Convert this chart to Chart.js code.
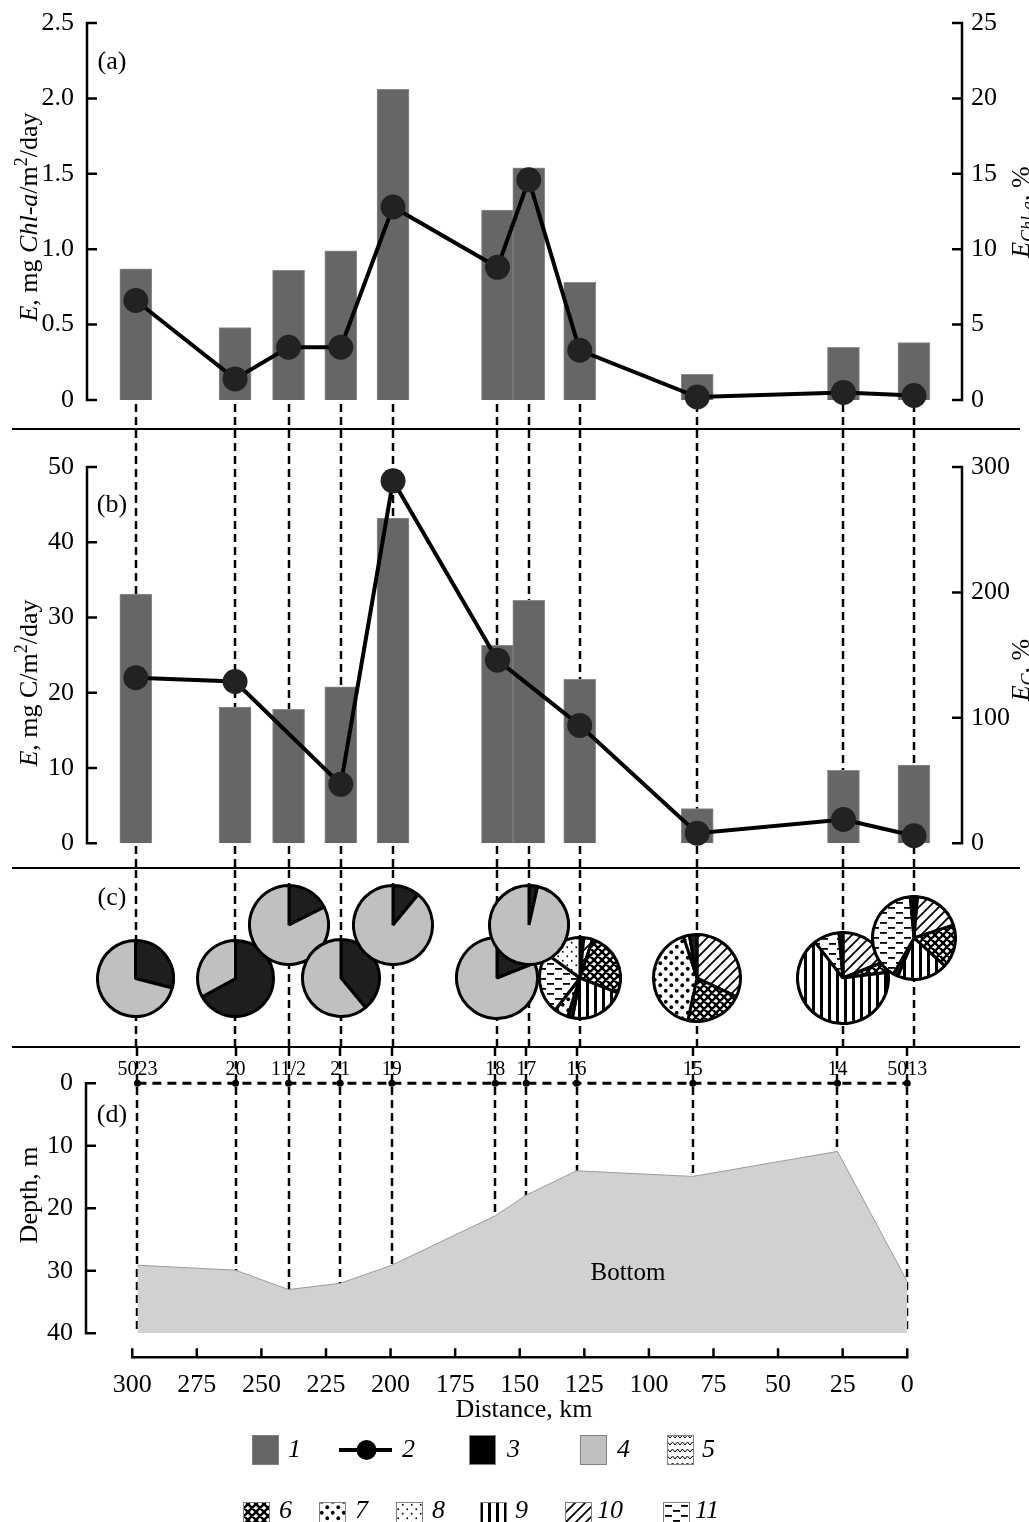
<!DOCTYPE html>
<html>
<head>
<meta charset="utf-8">
<title>Production along the transect</title>
<script src="https://cdn.jsdelivr.net/npm/chart.js@4.4.1/dist/chart.umd.min.js"></script>
<style>
  body { margin: 0; background: #fff; }
  #wrap { position: relative; width: 1029px; height: 1522px; overflow: hidden; }
  #wrap canvas { position: absolute; left: 0; }
</style>
</head>
<body>
<div id="wrap">
  <canvas id="cA" width="1029" height="430" style="top:0px"></canvas>
  <canvas id="cB" width="1029" height="440" style="top:430px"></canvas>
  <canvas id="cC" width="1029" height="178" style="top:870px"></canvas>
  <canvas id="cD" width="1029" height="474" style="top:1048px"></canvas>
</div>
<script>
// ---- data ----
const stationNames = ['5023', '20', '11/2', '21', '19', '18', '17', '16', '15', '14', '5013'];
const stationKm = [298, 260, 239.5, 219.5, 199.5, 159.5, 147.5, 128, 83, 27, 0];

// (a) mg Chl-a/m2/day (bars) and % (line)
const chlRate = [0.87, 0.48, 0.86, 0.99, 2.06, 1.26, 1.54, 0.78, 0.17, 0.35, 0.38];
const chlPct = [6.6, 1.4, 3.5, 3.5, 12.8, 8.8, 14.6, 3.3, 0.2, 0.5, 0.3];

// (b) mg C/m2/day (bars) and % (line), no point at 11/2 and 17
const carbRate = [33.1, 18.1, 17.8, 20.8, 43.2, 26.3, 32.3, 21.8, 4.6, 9.7, 10.4];
const carbPct = [132, 129, null, 47, 289, 146, null, 94, 8, 19, 6];

// (c) pie slices, clockwise from 12 o'clock: [group, percent]
const pieSlices = [
  [[3, 29], [4, 71]],
  [[3, 67], [4, 33]],
  [[3, 17.5], [4, 82.5]],
  [[3, 39], [4, 61]],
  [[3, 11], [4, 89]],
  [[3, 19], [4, 81]],
  [[3, 3.5], [4, 96.5]],
  [[3, 1.5], [10, 3.5], [6, 26], [9, 22], [3, 2], [7, 5.5], [11, 24.5], [8, 15]],
  [[10, 32], [6, 21.4], [7, 41.6], [8, 2.2], [3, 2.8]],
  [[10, 19], [6, 4], [9, 66.5], [11, 9.1], [3, 1.4]],
  [[3, 1.4], [10, 18.6], [6, 16.7], [9, 19.7], [3, 1.9], [11, 40.3], [3, 1.4]]
];

// (d) bottom depth, m
const bottomDepth = [29.1, 29.9, 33.0, 32.0, 29.1, 21.2, 17.9, 14.0, 14.9, 10.9, 31.7];

const chlTicks = [0, 0.5, 1, 1.5, 2, 2.5];
const chlPctTicks = [0, 5, 10, 15, 20, 25];
const carbTicks = [0, 10, 20, 30, 40, 50];
const carbPctTicks = [0, 100, 200, 300];
const depthTicks = [0, 10, 20, 30, 40];
const kmTicks = [300, 275, 250, 225, 200, 175, 150, 125, 100, 75, 50, 25, 0];

// ---- layout ----
const pieLevel = [0, 0, 1, 0, 1, 0, 1, 0, 0, 0, 0.76];   // pies lifted to avoid overlap
const pieRadius = [37.5, 37.5, 39, 38, 39, 40, 39, 40, 43, 45, 41];
const pieOrder = [0, 1, 2, 3, 4, 5, 7, 6, 8, 9, 10];
const X_TOP = { min: -18.4, max: 316.7 };
const X_BOT = { min: -21.2, max: 317.9 };
const TICK = 26;

const FONT = "'Liberation Serif', 'Times New Roman', serif";
Chart.defaults.font.family = FONT;
Chart.defaults.color = '#000';
Chart.defaults.animation = false;

const wrap = document.getElementById('wrap');

function dot(g, x, y, r) { g.beginPath(); g.arc(x, y, r, 0, Math.PI * 2); g.fill(); }

function tile(w, h, paint) {
  const c = document.createElement('canvas');
  c.width = w; c.height = h;
  const g = c.getContext('2d');
  g.fillStyle = '#fff'; g.fillRect(0, 0, w, h);
  g.fillStyle = '#000'; g.strokeStyle = '#000';
  paint(g);
  return g.createPattern(c, 'repeat');
}

const fills = {
  1: '#666666',
  3: '#1e1e1e',
  4: '#c0c0c0',
  5: tile(10, 7, g => {
    g.lineWidth = 1; g.beginPath();
    g.moveTo(0, 5); g.lineTo(2.5, 2); g.lineTo(5, 5); g.lineTo(7.5, 2); g.lineTo(10, 5);
    g.stroke();
  }),
  6: tile(8, 8, g => {
    g.lineWidth = 2.4; g.beginPath();
    [-8, 0, 8].forEach(k => {
      g.moveTo(-2, -2 + k); g.lineTo(10, 10 + k);
      g.moveTo(-2, 10 + k); g.lineTo(10, -2 + k);
    });
    g.stroke();
  }),
  7: tile(11, 11, g => { dot(g, 2.75, 2.75, 1.9); dot(g, 8.25, 8.25, 1.9); }),
  8: tile(9, 9, g => { dot(g, 2.25, 2.25, 0.9); dot(g, 6.75, 6.75, 0.9); }),
  9: tile(8, 8, g => g.fillRect(0, 0, 3, 8)),
  10: tile(10, 10, g => {
    g.lineWidth = 1.8; g.beginPath();
    [-10, 0, 10].forEach(k => { g.moveTo(-2, 12 + k); g.lineTo(12, -2 + k); });
    g.stroke();
  }),
  11: tile(16, 10, g => { g.fillRect(1, 2, 7, 1.8); g.fillRect(9, 7, 7, 1.8); })
};

function stationXY(vals) { return stationKm.map((d, i) => ({ x: d, y: vals[i] })); }

// y axes: scale from Chart.js, line / inward ticks / labels drawn in drawYAxis
function yAxis(pos, ticksArr, width, reverse) {
  return {
    type: 'linear', position: pos, reverse: !!reverse,
    min: ticksArr[0], max: ticksArr[ticksArr.length - 1],
    grid: { display: false, drawTicks: false }, border: { display: false },
    ticks: { display: false, padding: 0 },
    afterBuildTicks: s => { s.ticks = ticksArr.map(v => ({ value: v })); },
    afterFit: s => { s.width = width; }
  };
}

function hiddenX(r) {
  return { type: 'linear', reverse: true, min: r.min, max: r.max, offset: false, display: false };
}

// move the chart area to the wanted place by adjusting layout padding
function pin(chart, pad, want) {
  for (let k = 0; k < 4; k++) {
    const a = chart.chartArea;
    pad.left += want.left - a.left;
    pad.right += a.right - want.right;
    pad.top += want.top - a.top;
    pad.bottom += a.bottom - want.bottom;
    chart.update('none');
  }
}

function dashV(chart, y0, y1) {
  const ctx = chart.ctx, xs = chart.scales.x;
  ctx.save();
  ctx.strokeStyle = '#000'; ctx.lineWidth = 2.5; ctx.setLineDash([8, 5]);
  ctx.beginPath();
  stationKm.forEach(d => {
    const x = Math.round(xs.getPixelForValue(d));
    ctx.moveTo(x, y0); ctx.lineTo(x, y1);
  });
  ctx.stroke();
  ctx.restore();
}

function drawYAxis(chart, id, fmt) {
  const s = chart.scales[id], ctx = chart.ctx;
  const left = s.position === 'left';
  const x = left ? chart.chartArea.left : chart.chartArea.right;
  const ya = s.getPixelForValue(s.min), yb = s.getPixelForValue(s.max);
  ctx.save();
  ctx.strokeStyle = '#000'; ctx.lineWidth = 2.5;
  ctx.beginPath();
  ctx.moveTo(x, Math.min(ya, yb) - 1.25); ctx.lineTo(x, Math.max(ya, yb) + 1.25);
  s.ticks.forEach(t => {
    const y = s.getPixelForValue(t.value);
    ctx.moveTo(x, y); ctx.lineTo(x + (left ? 10 : -10), y);
  });
  ctx.stroke();
  ctx.font = TICK + 'px ' + FONT;
  ctx.fillStyle = '#000'; ctx.textBaseline = 'middle'; ctx.textAlign = left ? 'right' : 'left';
  s.ticks.forEach(t => ctx.fillText(fmt(t.value), left ? x - 13 : x + 9, s.getPixelForValue(t.value)));
  ctx.restore();
}

function sepLine(ctx, y) { ctx.save(); ctx.fillStyle = '#000'; ctx.fillRect(12, y - 1, 1008, 2); ctx.restore(); }

function label(ctx, text, x, y, size, italic) {
  ctx.save();
  ctx.font = (italic ? 'italic ' : '') + (size || TICK) + 'px ' + FONT;
  ctx.fillStyle = '#000'; ctx.textAlign = 'center'; ctx.textBaseline = 'middle';
  ctx.fillText(text, x, y);
  ctx.restore();
}

// rotated (reading upwards) text with italic / sub / sup parts
function rich(ctx, parts, x, y, size) {
  ctx.save();
  ctx.translate(x, y); ctx.rotate(-Math.PI / 2);
  const fontOf = st => (st.includes('i') ? 'italic ' : '') +
    Math.round(st.includes('sub') || st.includes('sup') ? size * 0.68 : size) + 'px ' + FONT;
  let w = 0;
  parts.forEach(([t, st]) => { ctx.font = fontOf(st); w += ctx.measureText(t).width; });
  let cx = -w / 2;
  ctx.fillStyle = '#000'; ctx.textBaseline = 'alphabetic'; ctx.textAlign = 'left';
  parts.forEach(([t, st]) => {
    ctx.font = fontOf(st);
    const dy = st.includes('sub') ? size * 0.22 : st.includes('sup') ? -size * 0.38 : 0;
    ctx.fillText(t, cx, size * 0.33 + dy);
    cx += ctx.measureText(t).width;
  });
  ctx.restore();
}

const noUi = { legend: { display: false }, tooltip: { enabled: false } };
const fmt1 = v => (v === 0 ? '0' : v.toFixed(1));
const fmt0 = v => String(v);

function lineSet(vals, axis) {
  return {
    type: 'line', data: stationXY(vals), yAxisID: axis, order: 0,
    borderColor: '#000', borderWidth: 4, tension: 0, spanGaps: true, clip: false,
    pointRadius: 12.5, pointBackgroundColor: '#222', pointBorderColor: '#222', pointBorderWidth: 0
  };
}
function barSet(vals) {
  return {
    type: 'bar', data: stationXY(vals), yAxisID: 'y', order: 1,
    backgroundColor: '#666666', borderColor: '#8c8c8c', borderWidth: 1, barThickness: 32
  };
}

// ---- (a) ----
const padA = { left: 0, right: 0, top: 0, bottom: 0 };
const chartA = new Chart(document.getElementById('cA'), {
  type: 'bar',
  data: { datasets: [lineSet(chlPct, 'y2'), barSet(chlRate)] },
  options: {
    responsive: false, events: [], layout: { padding: padA, autoPadding: false }, plugins: noUi,
    scales: {
      x: hiddenX(X_TOP),
      y: yAxis('left', chlTicks, 87),
      y2: yAxis('right', chlPctTicks, 67)
    }
  },
  plugins: [{
    id: 'panelA',
    beforeDatasetsDraw(chart) { dashV(chart, chart.chartArea.bottom + 4, chart.height); },
    afterDraw(chart) {
      const ctx = chart.ctx;
      drawYAxis(chart, 'y', fmt1); drawYAxis(chart, 'y2', fmt0);
      sepLine(ctx, 429);
      label(ctx, '(a)', 112, 62);
      rich(ctx, [['E', 'i'], [', mg ', ''], ['Chl', 'i'], ['-', ''], ['a', 'i'], ['/m', ''], ['2', 'sup'], ['/day', '']], 28, 217, 26);
      rich(ctx, [['E', 'i'], ['Chl-a', 'isub'], [', %', '']], 1020, 212, 26);
    }
  }]
});
pin(chartA, padA, { left: 87, right: 962, top: 23, bottom: 400 });

// ---- (b) ----
const padB = { left: 0, right: 0, top: 0, bottom: 0 };
const chartB = new Chart(document.getElementById('cB'), {
  type: 'bar',
  data: { datasets: [lineSet(carbPct, 'y2'), barSet(carbRate)] },
  options: {
    responsive: false, events: [], layout: { padding: padB, autoPadding: false }, plugins: noUi,
    scales: {
      x: hiddenX(X_TOP),
      y: yAxis('left', carbTicks, 87),
      y2: yAxis('right', carbPctTicks, 67)
    }
  },
  plugins: [{
    id: 'panelB',
    beforeDatasetsDraw(chart) { dashV(chart, 0, chart.height); },
    afterDraw(chart) {
      const ctx = chart.ctx;
      drawYAxis(chart, 'y', fmt0); drawYAxis(chart, 'y2', fmt0);
      sepLine(ctx, 438);
      label(ctx, '(b)', 112, 75);
      rich(ctx, [['E', 'i'], [', mg C/m', ''], ['2', 'sup'], ['/day', '']], 28, 253, 26);
      rich(ctx, [['E', 'i'], ['C', 'isub'], [', %', '']], 1020, 240, 26);
    }
  }]
});
pin(chartB, padB, { left: 87, right: 962, top: 37, bottom: 413.3 });

// ---- (c) ----
const padC = { left: 0, right: 0, top: 0, bottom: 0 };
const chartC = new Chart(document.getElementById('cC'), {
  type: 'bubble',
  data: {
    datasets: [{
      data: stationKm.map((d, i) => ({ x: d, y: pieLevel[i], r: pieRadius[i] })),
      backgroundColor: 'rgba(0,0,0,0)', borderWidth: 0, hoverRadius: 0
    }]
  },
  options: {
    responsive: false, events: [], layout: { padding: padC, autoPadding: false }, plugins: noUi,
    scales: {
      x: hiddenX(X_TOP),
      y: { type: 'linear', min: 0, max: 1, display: false }
    }
  },
  plugins: [{
    id: 'panelC',
    beforeDatasetsDraw(chart) { dashV(chart, 0, chart.height); },
    afterDraw(chart) {
      sepLine(chart.ctx, 177);
      label(chart.ctx, '(c)', 112, 28);
    }
  }]
});
pin(chartC, padC, { left: 87, right: 962, top: 55, bottom: 108 });

const metaC = chartC.getDatasetMeta(0);
pieOrder.forEach(i => {
  const el = metaC.data[i];
  const r = el.options.radius;
  const size = Math.ceil(2 * r + 4);
  const cv = document.createElement('canvas');
  cv.width = size; cv.height = size;
  cv.style.left = (el.x - size / 2) + 'px';
  cv.style.top = (870 + el.y - size / 2) + 'px';
  wrap.appendChild(cv);
  new Chart(cv, {
    type: 'pie',
    data: {
      labels: pieSlices[i].map(s => String(s[0])),
      datasets: [{
        data: pieSlices[i].map(s => s[1]),
        backgroundColor: pieSlices[i].map(s => fills[s[0]]),
        borderColor: '#000', borderWidth: 3
      }]
    },
    options: { responsive: false, events: [], animation: false, layout: { padding: 0 }, plugins: noUi }
  });
});

// ---- (d) ----
const legendItems = [
  { key: 1, row: 0, sx: 252, tx: 288 },
  { key: 2, row: 0, sx: 339, tx: 402 },
  { key: 3, row: 0, sx: 469, tx: 507 },
  { key: 4, row: 0, sx: 580, tx: 617 },
  { key: 5, row: 0, sx: 667, tx: 702 },
  { key: 6, row: 1, sx: 243, tx: 279 },
  { key: 7, row: 1, sx: 319, tx: 355 },
  { key: 8, row: 1, sx: 396, tx: 432 },
  { key: 9, row: 1, sx: 480, tx: 515 },
  { key: 10, row: 1, sx: 565, tx: 597 },
  { key: 11, row: 1, sx: 663, tx: 695 }
];
const legendRows = [{ top: 387, mid: 402 }, { top: 454, mid: 463 }];

function drawLegend(ctx) {
  ctx.save();
  legendItems.forEach(it => {
    const row = legendRows[it.row];
    if (it.key === 2) {
      ctx.strokeStyle = '#000'; ctx.lineWidth = 4;
      ctx.beginPath(); ctx.moveTo(it.sx, row.mid); ctx.lineTo(it.sx + 53, row.mid); ctx.stroke();
      ctx.fillStyle = '#000';
      ctx.beginPath(); ctx.arc(it.sx + 27.5, row.mid, 10, 0, Math.PI * 2); ctx.fill();
    } else {
      ctx.fillStyle = it.key === 3 ? '#000' : fills[it.key];
      ctx.fillRect(it.sx, row.top, 27, 30);
      ctx.strokeStyle = '#808080'; ctx.lineWidth = 1;
      ctx.strokeRect(it.sx + 0.5, row.top + 0.5, 26, 29);
    }
    ctx.font = 'italic 26px ' + FONT;
    ctx.fillStyle = '#000'; ctx.textAlign = 'left'; ctx.textBaseline = 'middle';
    ctx.fillText(String(it.key), it.tx, row.mid);
  });
  ctx.restore();
}

const padD = { left: 0, right: 0, top: 0, bottom: 0 };
const chartD = new Chart(document.getElementById('cD'), {
  type: 'line',
  data: {
    datasets: [
      {
        data: stationXY(bottomDepth), order: 2,
        fill: { value: 40 }, backgroundColor: '#d1d1d1',
        borderColor: '#9b9b9b', borderWidth: 1, pointRadius: 0, tension: 0
      },
      {
        data: stationKm.map(d => ({ x: d, y: 0 })), order: 1, clip: false,
        borderColor: '#000', borderWidth: 3, borderDash: [9, 6],
        pointRadius: 3.5, pointBackgroundColor: '#000', pointBorderWidth: 0
      }
    ]
  },
  options: {
    responsive: false, events: [], layout: { padding: padD, autoPadding: false }, plugins: noUi,
    scales: {
      x: {
        type: 'linear', reverse: true, min: X_BOT.min, max: X_BOT.max, offset: false,
        grid: { display: false, drawTicks: false }, border: { display: false },
        ticks: { font: { size: TICK }, color: '#000', padding: 36, autoSkip: false, maxRotation: 0 },
        afterBuildTicks: s => { s.ticks = kmTicks.map(v => ({ value: v })); }
      },
      y: yAxis('left', depthTicks, 86, true)
    }
  },
  plugins: [{
    id: 'panelD',
    beforeDatasetsDraw(chart) { dashV(chart, 0, chart.scales.y.getPixelForValue(40)); },
    afterDraw(chart) {
      const ctx = chart.ctx, xs = chart.scales.x;
      drawYAxis(chart, 'y', fmt0);
      const yb = chart.chartArea.bottom + 24;
      ctx.save();
      ctx.strokeStyle = '#000'; ctx.lineWidth = 2.5;
      ctx.beginPath();
      ctx.moveTo(xs.getPixelForValue(kmTicks[0]) - 1.25, yb);
      ctx.lineTo(xs.getPixelForValue(kmTicks[kmTicks.length - 1]) + 1.25, yb);
      kmTicks.forEach(v => {
        const x = xs.getPixelForValue(v);
        ctx.moveTo(x, yb); ctx.lineTo(x, yb - 9);
      });
      ctx.stroke();
      ctx.restore();
      stationNames.forEach((n, i) => label(ctx, n, xs.getPixelForValue(stationKm[i]), 22, 20));
      label(ctx, '(d)', 112, 67);
      label(ctx, 'Bottom', 628, 225, 25);
      label(ctx, 'Distance, km', 524, 362, TICK);
      rich(ctx, [['Depth, m', '']], 28, 147, 26);
      drawLegend(ctx);
    }
  }]
});
pin(chartD, padD, { left: 86, right: 962, top: 35.3, bottom: 285.3 });
</script>
</body>
</html>
